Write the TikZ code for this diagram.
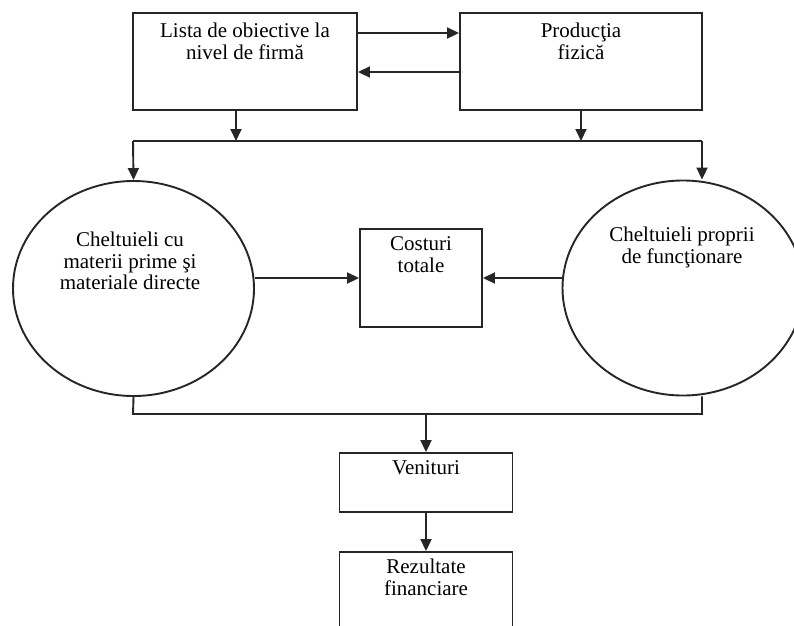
\documentclass[tikz,border=0pt]{standalone}
\usepackage{fontspec}
\setmainfont{Liberation Serif}
\usepackage{tikz}
\usetikzlibrary{shapes.geometric,arrows.meta}

\begin{document}
\begin{tikzpicture}[x=1pt,y=-1pt,
  line width=1.9pt,
  box/.style={draw=black!85,rectangle,inner sep=0pt},
  oval/.style={draw=black!85,ellipse,inner sep=0pt,minimum width=241,minimum height=215},
  arr/.style={draw=black!85,-{Triangle[length=12pt,width=11pt]}},
  txt/.style={anchor=north,inner sep=0pt,align=center,font=\fontsize{21}{21.5}\selectfont}]
\clip (0,0) rectangle (794,625);
\fill[white] (0,0) rectangle (794,625);
% boxes and ovals
\node (lista) at (245,61.5) [box,minimum width=224,minimum height=97]{};
\node (productia) at (581,61.5) [box,minimum width=242,minimum height=97]{};
\node (cheltMat) at (133.5,288.5) [oval]{};
\node (cheltProp) at (683,288) [oval]{};
\node (costuri) at (421,278) [box,minimum width=122,minimum height=98]{};
\node (venituri) at (426,482.5) [box,minimum width=173,minimum height=59]{};
\node (rezultate) at (426,600) [box,minimum width=173,minimum height=96]{};
% texts
\node (listaTxt) at (245,22) [txt]{Lista de obiective la\\nivel de firmă};
\node (prodTxt) at (581,22) [txt]{Producţia\\fizică};
\node (matTxt) at (130,231) [txt]{Cheltuieli cu\\materii prime şi\\materiale directe};
\node (propTxt) at (682,226) [txt]{Cheltuieli proprii\\de funcţionare};
\node (costTxt) at (421,236) [txt]{Costuri\\totale};
\node (venTxt) at (426,460) [txt]{Venituri};
\node (rezTxt) at (426,558) [txt]{Rezultate\\financiare};
% bus lines
\coordinate (busL) at (133,141);
\coordinate (busR) at (702,141);
\coordinate (busA) at (236,141);
\coordinate (busB) at (581,141);
\coordinate (sumL) at (133,414);
\coordinate (sumR) at (702,414);
\coordinate (sumV) at (426,414);
% top arrows
\draw[arr] (lista.east |- 0,33) -- (productia.west |- 0,33);
\draw[arr] (productia.west |- 0,72) -- (lista.east |- 0,72);
\draw[arr] (lista.south -| busA) -- (busA);
\draw[arr] (productia.south -| busB) -- (busB);
\draw[black!85] (busL) -- (busR);
\draw[arr] (busL) -- (cheltMat.north);
\draw[arr] (busR) -- (cheltProp.north -| busR);
% costs
\draw[arr] (cheltMat.east |- 0,278) -- (costuri.west |- 0,278);
\draw[arr] (cheltProp.west |- 0,278) -- (costuri.east |- 0,278);
% results
\draw[black!85] (cheltMat.south) -- (sumL) -- (sumR) -- (cheltProp.south -| sumR);
\draw[arr] (sumV) -- (venituri.north);
\draw[arr] (venituri.south) -- (rezultate.north);
\end{tikzpicture}
\end{document}
